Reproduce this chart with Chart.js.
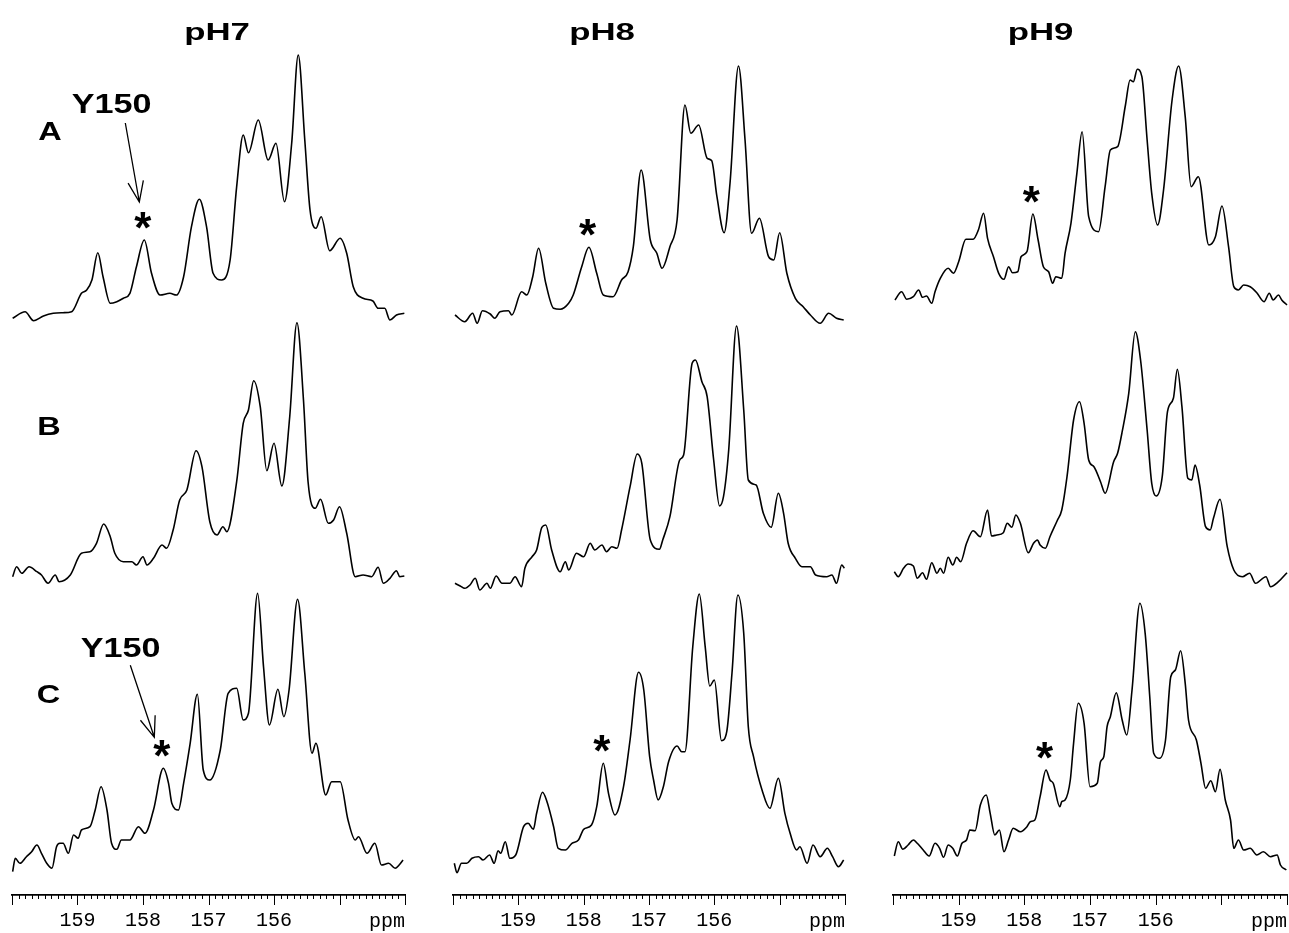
<!DOCTYPE html>
<html>
<head>
<meta charset="utf-8">
<script src="https://cdn.jsdelivr.net/npm/chart.js@4.4.1/dist/chart.umd.min.js"></script>
<style>
  html, body { margin: 0; padding: 0; background: #fff; }
  body { width: 1289px; height: 933px; position: relative; overflow: hidden; }
  .col { position: absolute; top: 0; height: 933px; }
</style>
</head>
<body>
<div class="col" style="left:-18px; width:453px;"><canvas id="ph7" width="453" height="933"></canvas></div>
<div class="col" style="left:423px; width:452px;"><canvas id="ph8" width="452" height="933"></canvas></div>
<div class="col" style="left:863px; width:454px;"><canvas id="ph9" width="454" height="933"></canvas></div>
<script>
// chemical shift (ppm) vs. intensity
const pH7_A = [[159.99,1.7],[159.80,8.3],[159.67,-0.7],[159.52,4],[159.37,6.7],[159.22,7.3],[159.09,8.3],[158.94,26.7],[158.86,30],[158.78,40],[158.69,67.3],[158.61,43.3],[158.50,16.7],[158.40,18.3],[158.30,21.7],[158.20,26.7],[158.10,53.3],[157.98,80],[157.87,46.7],[157.74,25],[157.59,26.7],[157.49,25],[157.38,43.3],[157.26,93.3],[157.14,120.7],[157.03,93.3],[156.93,46.7],[156.80,40],[156.67,60],[156.57,133.3],[156.47,185],[156.39,167.3],[156.24,200],[156.09,160],[155.97,176.7],[155.84,118.3],[155.73,176.7],[155.63,265],[155.53,180],[155.45,110],[155.36,91.7],[155.28,103.3],[155.15,69.3],[154.99,81.7],[154.89,66.7],[154.79,33.3],[154.64,21.7],[154.49,19],[154.41,11.7],[154.31,11.7],[154.23,0],[154.13,5],[154.01,6.7]];
const pH7_B = [[159.99,3.3],[159.93,13.3],[159.85,6.7],[159.74,13.3],[159.62,8.3],[159.55,5],[159.45,-3.3],[159.34,5],[159.28,-1.7],[159.11,5],[158.94,26.7],[158.81,28.3],[158.71,36.7],[158.60,56],[158.50,43.3],[158.43,26.7],[158.30,18.3],[158.17,18.3],[158.10,15],[158.00,23.3],[157.94,15],[157.84,21.7],[157.71,35],[157.64,31.7],[157.54,50],[157.44,80],[157.33,90],[157.19,129.3],[157.10,113.3],[156.98,58.3],[156.87,45],[156.78,53.3],[156.72,48.3],[156.57,98.3],[156.47,156.7],[156.39,170],[156.31,199.3],[156.21,173.3],[156.11,109.3],[156.00,136.7],[155.88,94],[155.76,163.3],[155.65,257.3],[155.55,180],[155.48,98.3],[155.37,71.7],[155.29,80.7],[155.17,56.7],[155.09,60],[155.00,73.3],[154.89,46.7],[154.76,3.3],[154.64,5],[154.51,3.3],[154.41,12.7],[154.33,-3.3],[154.23,1.7],[154.13,9.3],[154.08,3.3],[154.01,4]];
const pH7_C = [[159.99,-6.7],[159.95,6.7],[159.88,1.7],[159.78,8.3],[159.70,13.3],[159.62,20],[159.55,11.7],[159.47,1.7],[159.39,-3.3],[159.32,18.3],[159.27,21.7],[159.22,21.7],[159.14,11.7],[159.06,30],[158.99,26.7],[158.94,35],[158.81,38.3],[158.73,55],[158.64,78.3],[158.55,55],[158.48,21.7],[158.40,15.7],[158.33,25],[158.20,25],[158.07,38.3],[157.97,31.7],[157.84,55],[157.69,96.7],[157.61,81.7],[157.56,61.7],[157.46,55],[157.38,81.7],[157.28,121.7],[157.17,170.7],[157.08,95],[156.98,85],[156.82,115],[156.70,171.7],[156.57,176.7],[156.47,145],[156.39,151.7],[156.25,271.7],[156.16,198.3],[156.07,140],[155.94,175.7],[155.85,148.3],[155.77,175],[155.64,265.7],[155.53,191.7],[155.42,111.7],[155.36,121.7],[155.21,70],[155.12,83.3],[154.99,83.3],[154.87,45],[154.76,25],[154.71,28.3],[154.58,11.7],[154.46,21.7],[154.36,0],[154.25,1.7],[154.15,-3.3],[154.09,0],[154.03,5]];

const pH8_A = [[159.97,5],[159.82,-1.7],[159.70,6.7],[159.63,-3.3],[159.55,9.3],[159.43,6],[159.36,1.7],[159.28,8.3],[159.15,9.3],[159.10,5],[158.95,28.3],[158.87,25],[158.78,43.3],[158.69,71.7],[158.58,36.7],[158.46,11.7],[158.36,10.7],[158.23,16.7],[158.16,25],[158.03,53.3],[157.92,72.7],[157.80,46.7],[157.70,25],[157.55,23.3],[157.42,40],[157.32,48.3],[157.24,73.3],[157.12,150],[156.98,80],[156.88,66.7],[156.80,51.7],[156.68,73.3],[156.57,100],[156.45,215],[156.36,186.7],[156.24,195],[156.11,161.7],[156.04,159.3],[155.96,123.3],[155.85,87.3],[155.76,136.7],[155.63,254],[155.53,180],[155.43,86.7],[155.31,101.7],[155.17,63.3],[155.09,60],[155.00,87.3],[154.89,46.7],[154.76,21.7],[154.64,13.3],[154.53,5],[154.38,-3.3],[154.25,6.7],[154.13,1.7],[154.02,0]];
const pH8_B = [[159.97,-3.3],[159.89,-6],[159.82,-8.3],[159.74,-5],[159.66,1.7],[159.59,-10],[159.48,-3.3],[159.43,-8.3],[159.34,4],[159.25,-3.3],[159.13,-3.3],[159.05,3.3],[158.95,-6.7],[158.90,11.7],[158.79,23.3],[158.72,30],[158.64,52.7],[158.58,55],[158.49,30],[158.36,8.3],[158.28,18.3],[158.23,10],[158.11,26.7],[158.00,23.3],[157.90,36.7],[157.83,30],[157.72,35],[157.65,28.3],[157.57,33.3],[157.49,31.7],[157.42,50],[157.29,93.3],[157.18,126],[157.11,116.7],[156.98,40],[156.84,30.7],[156.79,40],[156.68,63.3],[156.53,120],[156.47,125],[156.34,216.7],[156.29,220],[156.19,198.3],[156.11,183.3],[156.01,120],[155.92,74],[155.86,83.3],[155.78,130],[155.66,254],[155.55,170],[155.48,100],[155.36,95],[155.25,66.7],[155.13,52.7],[155.02,86.7],[154.94,66.7],[154.87,36.7],[154.76,21.7],[154.66,13.3],[154.53,13.3],[154.45,5],[154.28,3.3],[154.20,5],[154.13,-3.3],[154.05,15],[154.01,11.7]];
const pH8_C = [[159.98,1.7],[159.94,-7.7],[159.87,1.7],[159.79,1.7],[159.71,6.7],[159.61,8.3],[159.54,5],[159.44,10],[159.37,1.7],[159.31,14.3],[159.27,11.7],[159.20,23.3],[159.13,6.7],[159.04,10],[158.92,38.3],[158.85,41.7],[158.77,35.7],[158.72,51.7],[158.63,72.7],[158.57,65],[158.46,38.3],[158.39,16.7],[158.28,15],[158.18,21.7],[158.08,25],[158.00,35.7],[157.88,40],[157.80,58.3],[157.70,101.7],[157.62,71.7],[157.52,50],[157.39,78.3],[157.29,125],[157.16,192.7],[157.08,175],[156.99,108.3],[156.93,85],[156.86,65],[156.78,78.3],[156.70,103.3],[156.57,119],[156.50,113.3],[156.45,113.3],[156.33,218.3],[156.23,271],[156.14,218.3],[156.07,179],[156.00,185],[155.89,124.3],[155.81,133.3],[155.73,191.7],[155.64,270],[155.55,231.7],[155.48,138.3],[155.40,108.3],[155.27,75],[155.15,56.7],[155.02,86.7],[154.92,51.7],[154.84,31.7],[154.74,15],[154.69,18.3],[154.58,1.7],[154.49,20],[154.38,8.3],[154.27,16.7],[154.19,8.3],[154.10,-1.7],[154.02,5]];

const pH9_A = [[159.97,20],[159.87,28.3],[159.79,20.7],[159.69,23.3],[159.61,30],[159.55,22.7],[159.49,24],[159.41,16.7],[159.36,28.3],[159.28,41.7],[159.16,51.7],[159.08,46.7],[159.00,58.3],[158.89,80.7],[158.78,80.7],[158.70,90],[158.62,106.7],[158.56,81.7],[158.47,63.3],[158.39,46.7],[158.31,40.7],[158.24,53.3],[158.18,47.3],[158.10,48.3],[158.05,63.3],[157.96,68.3],[157.87,106],[157.79,80],[157.71,53.3],[157.63,48.3],[157.57,36.7],[157.52,43.3],[157.43,41.7],[157.38,66.7],[157.29,96.7],[157.20,146.7],[157.12,188.3],[157.02,103.3],[156.87,88.3],[156.77,133.3],[156.69,170],[156.58,173.3],[156.46,215],[156.39,240],[156.34,238.3],[156.28,250.7],[156.21,243.3],[156.13,180],[156.06,126.7],[155.97,95],[155.88,130],[155.75,220],[155.65,254],[155.55,203.3],[155.46,133.3],[155.35,143.3],[155.19,75],[155.09,83.3],[154.99,114],[154.89,73.3],[154.81,33.3],[154.74,30],[154.66,35],[154.56,33.3],[154.46,27.3],[154.35,18.3],[154.27,26.7],[154.21,20],[154.13,25],[154.08,20],[154.00,15]];
const pH9_B = [[159.98,8.3],[159.92,3.3],[159.84,11.7],[159.77,16],[159.69,14],[159.63,1.7],[159.55,7.3],[159.49,0.7],[159.41,17.3],[159.33,6.7],[159.28,11.7],[159.23,6.7],[159.16,22.7],[159.09,15],[159.03,22.7],[158.97,18.3],[158.88,36.7],[158.78,49.3],[158.67,43.3],[158.56,70],[158.50,44],[158.42,45],[158.32,47.3],[158.26,56.7],[158.19,52.7],[158.13,65],[158.06,56.7],[157.94,27.3],[157.86,36.7],[157.80,40],[157.76,35],[157.68,31.7],[157.61,43.3],[157.50,59.3],[157.43,70],[157.35,103.3],[157.25,160],[157.16,178.3],[157.09,156.7],[157.02,120],[156.94,113.3],[156.84,98.3],[156.77,86.7],[156.64,118.3],[156.58,126.7],[156.51,148.3],[156.41,186.7],[156.31,248.3],[156.23,220],[156.13,150],[156.06,96.7],[155.99,84],[155.90,103.3],[155.82,168.3],[155.73,181.7],[155.67,210.7],[155.60,173.3],[155.51,101.7],[155.45,100],[155.40,115],[155.33,95],[155.24,53.3],[155.17,50],[155.12,61.7],[155.02,80.7],[154.91,33.3],[154.81,10],[154.68,3.3],[154.57,6.7],[154.48,-3.3],[154.32,3.3],[154.25,-6.7],[154.13,-1.7],[154.00,7.3]];
const pH9_C = [[159.98,9],[159.92,23.3],[159.85,15.7],[159.77,20],[159.69,25],[159.63,21.7],[159.54,15],[159.45,9],[159.36,21.7],[159.29,16.7],[159.23,7.7],[159.16,20],[159.09,16.7],[159.02,9],[158.95,21.7],[158.88,25],[158.83,35],[158.75,34.3],[158.67,60],[158.58,70],[158.52,51.7],[158.45,30],[158.38,35],[158.31,13.3],[158.24,25],[158.17,36.7],[158.06,33.3],[157.96,38.3],[157.91,43.3],[157.84,45],[157.76,68.3],[157.67,95],[157.61,85],[157.56,81.7],[157.46,58.3],[157.43,63.3],[157.38,65],[157.30,85],[157.25,121.7],[157.18,161.7],[157.09,141.7],[157.00,78.3],[156.89,81.7],[156.84,103.3],[156.79,108.3],[156.74,138.3],[156.69,148.3],[156.60,172.3],[156.51,145],[156.44,130],[156.36,175],[156.24,261.7],[156.16,231.7],[156.09,168.3],[156.03,111.7],[155.94,106.7],[155.85,125],[155.77,188.3],[155.70,195],[155.62,214.3],[155.55,181.7],[155.50,145],[155.38,125],[155.31,101.7],[155.24,76.7],[155.16,84.3],[155.09,73.3],[155.02,95.7],[154.94,65],[154.86,45],[154.81,16.7],[154.74,25],[154.66,15],[154.56,16.7],[154.46,10],[154.36,13.3],[154.25,8.3],[154.15,10],[154.10,0],[154.01,-5]];

const rowNames = ['A', 'B', 'C'];
const tickNumbers = [156, 157, 158, 159];

// Y150 peaks marked with an asterisk
const pH7_stars = [['A', 157.98], ['C', 157.69]];
const pH8_stars = [['A', 157.92], ['C', 157.70]];
const pH9_stars = [['A', 157.87], ['C', 157.67]];

const SANS = "'Liberation Sans', Arial, sans-serif";
const MONO = "'Liberation Mono', 'Courier New', monospace";

function ink(ctx, text, cx, cy, font, sx) {
    ctx.save();
    ctx.font = font;
    ctx.textAlign = 'left';
    ctx.textBaseline = 'alphabetic';
    const m = ctx.measureText(text);
    const dx = (m.actualBoundingBoxRight - m.actualBoundingBoxLeft) / 2;
    const dy = (m.actualBoundingBoxDescent - m.actualBoundingBoxAscent) / 2;
    ctx.translate(cx, cy);
    ctx.scale(sx, 1);
    ctx.fillStyle = '#000';
    ctx.fillText(text, -dx, -dy);
    ctx.restore();
}

function arrow(ctx, x1, y1, x2, y2) {
    const ang = Math.atan2(y1 - y2, x1 - x2);
    const len = 22, spread = 0.36;
    ctx.save();
    ctx.strokeStyle = '#000';
    ctx.lineWidth = 1.3;
    ctx.beginPath();
    ctx.moveTo(x1, y1);
    ctx.lineTo(x2, y2);
    ctx.moveTo(x2 + len * Math.cos(ang - spread), y2 + len * Math.sin(ang - spread));
    ctx.lineTo(x2, y2);
    ctx.lineTo(x2 + len * Math.cos(ang + spread), y2 + len * Math.sin(ang + spread));
    ctx.stroke();
    ctx.restore();
}

// ppm scale ticks, titles, asterisks and arrows
const spectrumDecor = {
    id: 'spectrumDecor',
    afterDatasetsDraw(chart, args, opts) {
        const ctx = chart.ctx;
        const xs = chart.scales.x;
        const off = opts.offset;   // canvas left edge on the page

        ctx.save();
        ctx.strokeStyle = '#000';
        ctx.lineWidth = 1;
        ctx.beginPath();
        xs.ticks.forEach(t => {
            const px = Math.round(xs.getPixelForValue(t.value)) + 0.5;
            const major = Math.abs(t.value - Math.round(t.value)) < 1e-6;
            ctx.moveTo(px, xs.top);
            ctx.lineTo(px, xs.top + (major ? 10 : 4));
        });
        ctx.stroke();
        ctx.font = '20px ' + MONO;
        ctx.fillStyle = '#000';
        ctx.textAlign = 'right';
        ctx.textBaseline = 'alphabetic';
        ctx.fillText('ppm', xs.right, xs.top + 32);
        ctx.restore();

        ink(ctx, opts.title, opts.titleX - off, 33.5, 'bold 24px ' + SANS, 1.45);
        (opts.letters || []).forEach(([t, lx, ly]) => ink(ctx, t, lx - off, ly, 'bold 25px ' + SANS, 1.3));

        opts.stars.forEach(([row, ppm], k) => {
            const i = rowNames.indexOf(row);
            const pts = chart.data.datasets[i].data;
            let best = 0;
            pts.forEach((p, j) => { if (Math.abs(p.x - ppm) < Math.abs(pts[best].x - ppm)) best = j; });
            const el = chart.getDatasetMeta(i).data[best];
            ink(ctx, '*', el.x - 1, el.y - 20, 'bold 44px ' + SANS, 1);
            const lab = (opts.labels || [])[k];
            if (lab) {
                arrow(ctx, el.x + lab.tail[0], el.y + lab.tail[1], el.x + lab.tip[0], el.y + lab.tip[1]);
                ink(ctx, 'Y150', el.x + lab.text[0], el.y + lab.text[1], 'bold 28px ' + SANS, 1.22);
            }
        });
    }
};

function makeSpectrum(id, title, series, stars, extra) {
    const datasets = series.map((s, i) => ({
        label: title + ' ' + rowNames[i],
        data: s.map(([x, y]) => ({ x, y })),
        yAxisID: 'y' + rowNames[i],
        borderColor: '#000',
        borderWidth: 1.6,
        pointRadius: 0,
        fill: false,
        cubicInterpolationMode: 'monotone',
        clip: false
    }));
    // each row gets its own y scale, 1 unit = 1 px, with its baseline at 320 / 580 / 865
    const rowY = (base) => ({ type: 'linear', display: false, min: base - 895, max: base });
    return new Chart(document.getElementById(id), {
        type: 'line',
        data: { datasets },
        options: {
            responsive: false,
            animation: false,
            events: [],
            layout: { padding: { left: 30, right: 30, top: 0, bottom: 0 } },
            plugins: {
                legend: { display: false },
                tooltip: { enabled: false },
                spectrumDecor: Object.assign({ title, stars }, extra)
            },
            scales: {
                x: {
                    type: 'linear',
                    reverse: true,
                    min: 154,
                    max: 160,
                    grid: { display: false, drawTicks: false },
                    border: { display: true, color: '#000', width: 1.8 },
                    afterFit: (scale) => { scale.height = 38; },
                    ticks: {
                        stepSize: 0.1,
                        autoSkip: false,
                        maxRotation: 0,
                        padding: 14,
                        color: '#000',
                        font: { family: MONO, size: 20 },
                        callback: (v) => {
                            const r = Math.round(v);
                            return Math.abs(v - r) < 1e-6 && tickNumbers.includes(r) ? String(r) : '';
                        }
                    }
                },
                yA: rowY(320),
                yB: rowY(580),
                yC: rowY(865)
            }
        },
        plugins: [spectrumDecor]
    });
}

makeSpectrum('ph7', 'pH7', [pH7_A, pH7_B, pH7_C], pH7_stars, {
    offset: -18,
    titleX: 217.5,
    letters: [['A', 50, 130.5], ['B', 49, 425.5], ['C', 49, 693.5]],
    labels: [
        { tip: [-5, -38], tail: [-19, -117], text: [-33, -137] },
        { tip: [-9, -31], tail: [-33, -103], text: [-43, -120.5] }
    ]
});
makeSpectrum('ph8', 'pH8', [pH8_A, pH8_B, pH8_C], pH8_stars, {
    offset: 423,
    titleX: 602.5
});
makeSpectrum('ph9', 'pH9', [pH9_A, pH9_B, pH9_C], pH9_stars, {
    offset: 863,
    titleX: 1041
});
</script>
</body>
</html>
